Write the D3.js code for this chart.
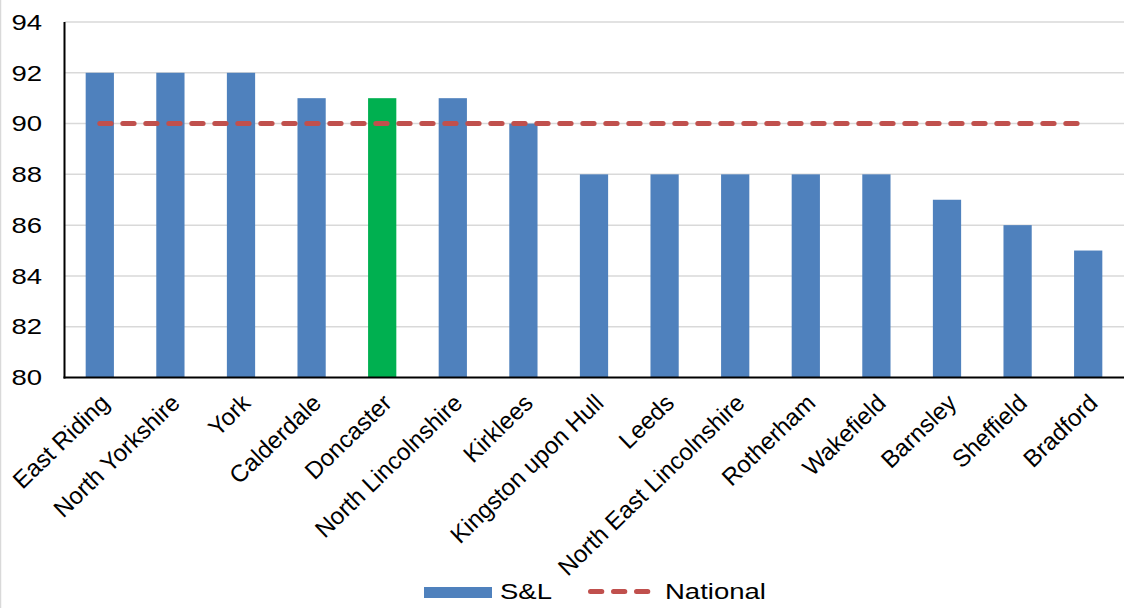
<!DOCTYPE html>
<html>
<head>
<meta charset="utf-8">
<script src="https://cdn.jsdelivr.net/npm/d3@7"></script>
<style>
  html, body { margin: 0; padding: 0; background: #fff; }
  svg { display: block; font-family: "Liberation Sans", Arial, sans-serif; }
</style>
</head>
<body>
<svg id="chart" width="1124" height="608"></svg>
<script>
// Local authority scores against the national figure
const categories = ["East Riding", "North Yorkshire", "York", "Calderdale", "Doncaster",
  "North Lincolnshire", "Kirklees", "Kingston upon Hull", "Leeds", "North East Lincolnshire",
  "Rotherham", "Wakefield", "Barnsley", "Sheffield", "Bradford"];
const slValues = [92, 92, 92, 91, 91, 91, 90, 88, 88, 88, 88, 88, 87, 86, 85];
const nationalValues = [90, 90, 90, 90, 90, 90, 90, 90, 90, 90, 90, 90, 90, 90, 90];
const highlighted = ["Doncaster"];
const yTicks = [80, 82, 84, 86, 88, 90, 92, 94];
const seriesNames = ["S&L", "National"];

const W = 1124, H = 608;
const margin = { left: 64.5, right: 0.5, top: 22, bottom: 230.5 };
const svg = d3.select("#chart");

const x = d3.scaleBand().domain(categories)
  .range([margin.left, W - margin.right]).paddingInner(0.6).paddingOuter(0.3);
const y = d3.scaleLinear().domain([80, 94]).range([H - margin.bottom, margin.top]);

const blue = "#4f81bd", green = "#00b050", red = "#c0504d", grid = "#d9d9d9";
const hStretch = 1.28;

// outer frame edge on the left
svg.append("line").attr("x1", 0.5).attr("x2", 0.5).attr("y1", 0).attr("y2", H)
  .attr("stroke", grid).attr("stroke-width", 1.5);

// horizontal gridlines
svg.append("g").selectAll("line").data(yTicks.filter(d => d !== 80)).join("line")
  .attr("x1", margin.left).attr("x2", W)
  .attr("y1", d => y(d)).attr("y2", d => y(d))
  .attr("stroke", grid).attr("stroke-width", 1.5);

// y tick labels (horizontally widened glyphs)
svg.append("g").selectAll("text").data(yTicks).join("text")
  .attr("transform", d => `translate(42,${y(d)}) scale(${hStretch},1)`)
  .attr("text-anchor", "end").attr("dy", "0.36em")
  .attr("font-size", 21.5).attr("fill", "#000")
  .text(d => d);

// bars
svg.append("g").selectAll("rect").data(categories).join("rect")
  .attr("x", d => x(d)).attr("width", x.bandwidth())
  .attr("y", (d, i) => y(slValues[i]))
  .attr("height", (d, i) => y(80) - y(slValues[i]))
  .attr("fill", d => highlighted.includes(d) ? green : blue);

// axes lines
svg.append("line").attr("x1", margin.left).attr("x2", margin.left)
  .attr("y1", y(94)).attr("y2", y(80) + 1)
  .attr("stroke", "#000").attr("stroke-width", 2);
svg.append("line").attr("x1", margin.left - 1).attr("x2", W)
  .attr("y1", y(80)).attr("y2", y(80))
  .attr("stroke", "#000").attr("stroke-width", 2);

// national dashed line
const line = d3.line().x((d, i) => x(categories[i]) + x.bandwidth() / 2).y(d => y(d));
svg.append("path").datum(nationalValues).attr("d", line)
  .attr("fill", "none").attr("stroke", red).attr("stroke-width", 5)
  .attr("stroke-linecap", "round").attr("stroke-dasharray", "11.3,11.7");

// rotated category labels
svg.append("g").selectAll("text").data(categories).join("text")
  .attr("transform", d => `translate(${x(d) + x.bandwidth() / 2 + 5},${y(80) + 21}) rotate(-44)`)
  .attr("text-anchor", "end").attr("dy", "0.36em")
  .attr("font-size", 24).attr("fill", "#000")
  .text(d => d);

// legend
const lg = svg.append("g");
lg.append("rect").attr("x", 424).attr("y", 587).attr("width", 68).attr("height", 11).attr("fill", blue);
lg.append("text").attr("transform", `translate(500,599) scale(${hStretch},1)`)
  .attr("font-size", 21.5).text(seriesNames[0]);
lg.append("line").attr("x1", 590.5).attr("x2", 650).attr("y1", 591.5).attr("y2", 591.5)
  .attr("stroke", red).attr("stroke-width", 5)
  .attr("stroke-linecap", "round").attr("stroke-dasharray", "11.3,11.7");
lg.append("text").attr("transform", `translate(665,599) scale(${hStretch},1)`)
  .attr("font-size", 21.5).text(seriesNames[1]);
</script>
</body>
</html>
